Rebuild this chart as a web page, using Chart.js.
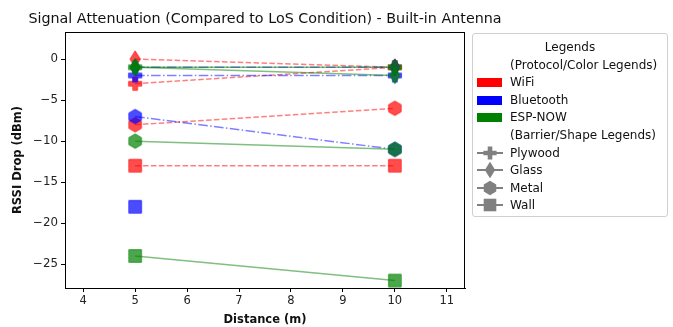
<!DOCTYPE html>
<html>
<head>
<meta charset="utf-8">
<script src="https://cdn.jsdelivr.net/npm/chart.js@4/dist/chart.umd.min.js"></script>
<style>
  html, body { margin: 0; padding: 0; background: #fff; }
  #wrap { position: relative; width: 673px; height: 327px; font-family: "DejaVu Sans", sans-serif; }
  #c { position: absolute; left: 0; top: 0; }
  #title { position: absolute; left: 0; top: 9px; width: 530px; text-align: center; font-size: 14.3px;
           line-height: 19px; color: #111; white-space: nowrap; }
  #legend { position: absolute; left: 472px; top: 33px; width: 196px; height: 184px;
            border: 1px solid #d0d0d0; border-radius: 3px; box-sizing: border-box; background: #fff; }
  .row { position: absolute; left: 0; height: 18px; line-height: 18px; font-size: 12px; color: #111; white-space: nowrap; }
  .txt { position: absolute; left: 37px; }
  .patch { position: absolute; left: 4px; top: 5px; width: 25px; height: 9px; }
  .sym { position: absolute; left: 3px; top: 0px; }
</style>
</head>
<body>
<div id="wrap">
  <canvas id="c" width="673" height="327"></canvas>
  <div id="title">Signal Attenuation (Compared to LoS Condition) - Built-in Antenna</div>
  <div id="legend"></div>
</div>
<script>
// ---- data ----
const distances = [5, 10];
const protocols = ['WiFi', 'Bluetooth', 'ESP-NOW'];
const barriers = ['Plywood', 'Glass', 'Metal', 'Wall'];
const xTicks = [4, 5, 6, 7, 8, 9, 10, 11];
const yTicks = [0, -5, -10, -15, -20, -25];

const wifiPlywood = [-3, -1];
const wifiGlass = [0, -1];
const wifiMetal = [-8, -6];
const wifiWall = [-13, -13];

const btPlywood = [-2, -2];
const btGlass = [-1, -1];
const btMetal = [-7, -11];
const btWall = [-18, null];

const espPlywood = [-1, -1];
const espGlass = [-1, -2];
const espMetal = [-10, -11];
const espWall = [-24, -27];

const seriesValues = {
  'WiFi': [wifiPlywood, wifiGlass, wifiMetal, wifiWall],
  'Bluetooth': [btPlywood, btGlass, btMetal, btWall],
  'ESP-NOW': [espPlywood, espGlass, espMetal, espWall]
};

// ---- styles ----
const protoColor = { 'WiFi': [255, 0, 0], 'Bluetooth': [0, 0, 255], 'ESP-NOW': [0, 128, 0] };
const protoDash = { 'WiFi': [5.5, 2.4], 'Bluetooth': [9.6, 2.4, 1.5, 2.4], 'ESP-NOW': [] };
const barrierShape = { 'Plywood': 'plus', 'Glass': 'thindiamond', 'Metal': 'hexagon', 'Wall': 'square' };

function shapePath(ctx, shape, cx, cy) {
  ctx.beginPath();
  if (shape === 'square') {
    const s = 6.3;
    ctx.rect(cx - s, cy - s, 2 * s, 2 * s);
  } else if (shape === 'hexagon') {
    const r = 7.2;
    for (let i = 0; i < 6; i++) {
      const a = -Math.PI / 2 + i * Math.PI / 3;
      const px = cx + r * Math.cos(a), py = cy + r * Math.sin(a);
      if (i === 0) ctx.moveTo(px, py); else ctx.lineTo(px, py);
    }
    ctx.closePath();
  } else if (shape === 'thindiamond') {
    const h = 8.2, w = 5.2;
    ctx.moveTo(cx, cy - h); ctx.lineTo(cx + w, cy); ctx.lineTo(cx, cy + h); ctx.lineTo(cx - w, cy);
    ctx.closePath();
  } else if (shape === 'plus') {
    const o = 6.6, t = 2.3;
    ctx.moveTo(cx - t, cy - o); ctx.lineTo(cx + t, cy - o); ctx.lineTo(cx + t, cy - t);
    ctx.lineTo(cx + o, cy - t); ctx.lineTo(cx + o, cy + t); ctx.lineTo(cx + t, cy + t);
    ctx.lineTo(cx + t, cy + o); ctx.lineTo(cx - t, cy + o); ctx.lineTo(cx - t, cy + t);
    ctx.lineTo(cx - o, cy + t); ctx.lineTo(cx - o, cy - t); ctx.lineTo(cx - t, cy - t);
    ctx.closePath();
  }
}

function makeMarker(shape, rgb, alpha) {
  const cv = document.createElement('canvas');
  cv.width = 22; cv.height = 22;
  const ctx = cv.getContext('2d');
  const col = 'rgba(' + rgb.join(',') + ',' + alpha + ')';
  shapePath(ctx, shape, 11, 11);
  ctx.fillStyle = col;
  ctx.fill();
  ctx.lineWidth = 1;
  ctx.strokeStyle = col;
  ctx.stroke();
  return cv;
}

// ---- datasets ----
const datasets = [];
protocols.forEach(p => {
  barriers.forEach((b, bi) => {
    const vals = seriesValues[p][bi];
    const rgb = protoColor[p];
    datasets.push({
      label: p + ' ' + b,
      data: distances.map((d, i) => ({ x: d, y: vals[i] })),
      borderColor: 'rgba(' + rgb.join(',') + ',0.5)',
      borderWidth: 1.5,
      borderDash: protoDash[p],
      pointStyle: makeMarker(barrierShape[b], rgb, 0.7),
      pointRadius: 7,
      pointHoverRadius: 7,
      spanGaps: false,
      tension: 0,
      fill: false
    });
  });
});
datasets.forEach((d, i) => { d.order = datasets.length - i; });

const minus = v => String(v).replace('-', '\u2212');

const frame = {
  id: 'frame',
  afterDraw(chart) {
    const a = chart.chartArea, ctx = chart.ctx;
    ctx.save();
    ctx.strokeStyle = '#000';
    ctx.lineWidth = 1;
    ctx.strokeRect(Math.round(a.left) + 0.5, Math.round(a.top) + 0.5, Math.round(a.right - a.left) - 1, Math.round(a.bottom - a.top));
    ctx.restore();
  }
};

new Chart(document.getElementById('c'), {
  type: 'line',
  data: { datasets },
  options: {
    responsive: false,
    animation: false,
    events: [],
    layout: { padding: { left: 0, right: 208, top: 32, bottom: 0 } },
    plugins: {
      legend: { display: false },
      tooltip: { enabled: false },
      title: { display: false }
    },
    scales: {
      x: {
        type: 'linear',
        min: 3.65, max: 11.35,
        afterFit: s => { s.height = 39; },
        afterBuildTicks: s => { s.ticks = xTicks.map(v => ({ value: v })); },
        ticks: { color: '#222', font: { family: 'DejaVu Sans', size: 11.5 }, padding: 2, maxRotation: 0,
                 callback: v => minus(v) },
        grid: { display: true, drawOnChartArea: false, drawTicks: true, tickLength: 4, color: '#000', tickColor: '#000' },
        border: { display: true, color: '#000', width: 1 },
        title: { display: true, text: 'Distance (m)', color: '#111',
                 font: { family: 'DejaVu Sans', size: 11.5, weight: 'bold', lineHeight: 1.2 },
                 padding: { top: 0, bottom: 0 } }
      },
      y: {
        type: 'linear',
        min: -27.9, max: 3.3,
        afterFit: s => { s.width = 65; },
        afterBuildTicks: s => { s.ticks = yTicks.map(v => ({ value: v })); },
        ticks: { color: '#222', font: { family: 'DejaVu Sans', size: 11.8 }, padding: 3,
                 callback: v => minus(v) },
        grid: { display: true, drawOnChartArea: false, drawTicks: true, tickLength: 4, color: '#000', tickColor: '#000' },
        border: { display: true, color: '#000', width: 1 },
        title: { display: true, text: 'RSSI Drop (dBm)', color: '#111',
                 font: { family: 'DejaVu Sans', size: 11.5, weight: 'bold', lineHeight: 1.2 },
                 padding: { top: 11, bottom: 0 } }
      }
    }
  },
  plugins: [frame]
});

// ---- legend (HTML) ----
const legend = document.getElementById('legend');
function addRow(y, html) {
  const r = document.createElement('div');
  r.className = 'row';
  r.style.top = (y - 33 - 9) + 'px';
  r.style.width = '100%';
  r.innerHTML = html;
  legend.appendChild(r);
  return r;
}
function legendSym(shape) {
  const cv = document.createElement('canvas');
  cv.width = 28; cv.height = 18;
  const ctx = cv.getContext('2d');
  ctx.strokeStyle = 'rgb(128,128,128)';
  ctx.lineWidth = 2;
  ctx.beginPath(); ctx.moveTo(1, 9); ctx.lineTo(27, 9); ctx.stroke();
  shapePath(ctx, shape, 14, 9);
  ctx.fillStyle = 'rgb(128,128,128)';
  ctx.fill();
  cv.className = 'sym';
  return cv;
}
const t = addRow(46, '<span>Legends</span>');
t.style.textAlign = 'center';
addRow(64, '<span class="txt">(Protocol/Color Legends)</span>');
const legendRowsY = [81, 99, 116];
protocols.forEach((p, i) => {
  addRow(legendRowsY[i], '<span class="patch" style="background:rgb(' + protoColor[p].join(',') + ')"></span><span class="txt">' + p + '</span>');
});
addRow(134, '<span class="txt">(Barrier/Shape Legends)</span>');
const barrierRowsY = [152, 169, 187, 204];
barriers.forEach((b, i) => {
  const r = addRow(barrierRowsY[i], '<span class="txt">' + b + '</span>');
  r.appendChild(legendSym(barrierShape[b]));
});
</script>
</body>
</html>
